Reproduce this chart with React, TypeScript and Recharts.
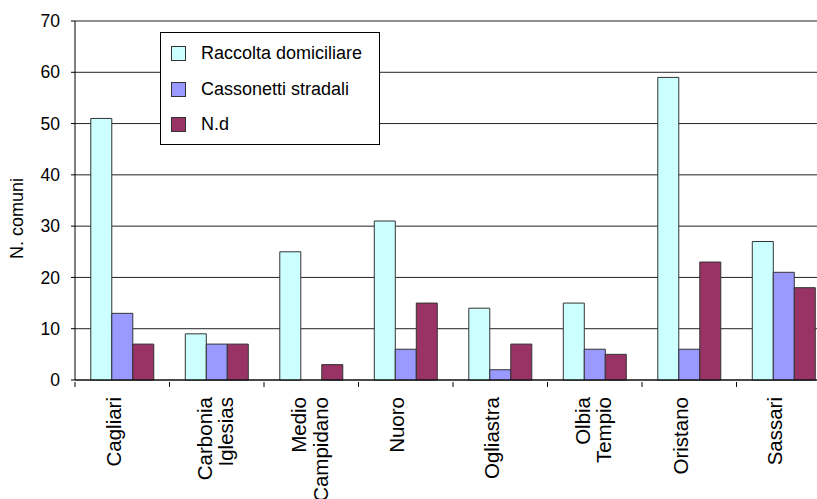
import { BarChart, Bar, XAxis, YAxis, CartesianGrid, Legend } from 'recharts'

const provinces = [
  ['Cagliari'],
  ['Carbonia', 'Iglesias'],
  ['Medio', 'Campidano'],
  ['Nuoro'],
  ['Ogliastra'],
  ['Olbia', 'Tempio'],
  ['Oristano'],
  ['Sassari'],
]
const raccolta = [51, 9, 25, 31, 14, 15, 59, 27]
const cassonetti = [13, 7, 0, 6, 2, 6, 6, 21]
const nd = [7, 7, 3, 15, 7, 5, 23, 18]
const yTicks = [0, 10, 20, 30, 40, 50, 60, 70]

const series = [
  { key: 'raccolta', name: 'Raccolta domiciliare', color: '#CCFFFF' },
  { key: 'cassonetti', name: 'Cassonetti stradali', color: '#9999FF' },
  { key: 'nd', name: 'N.d', color: '#993366' },
]

const data = provinces.map((p, i) => ({
  name: p.join(' '),
  lines: p,
  raccolta: raccolta[i],
  cassonetti: cassonetti[i],
  nd: nd[i],
}))

const FONT = '"Liberation Sans", Arial, sans-serif'

function ProvinceTick(props: any) {
  const { x, y, payload, index } = props
  const lines: string[] = data[index]?.lines ?? [String(payload.value)]
  const off = payload.offset ?? 0
  // single labels sit a bit left of the band centre, two-line ones a bit right
  const shift = lines.length === 1 ? -1.5 : -5
  return (
    <g>
      <line x1={x - off} y1={y} x2={x - off} y2={y + 5} stroke="#000" />
      <g transform={`translate(${x},${y + 15}) rotate(-90)`}>
        <text textAnchor="end" fontSize={20.5} fontFamily={FONT} fill="#000">
          {lines.map((l, i) => (
            <tspan key={i} x={0} y={shift + i * 21.5}>{l}</tspan>
          ))}
        </text>
      </g>
    </g>
  )
}

function LegendBox() {
  return (
    <div style={{ width: 218, height: 108, border: '1px solid #000', background: '#fff', fontFamily: FONT, fontSize: 18, paddingTop: 3, boxSizing: 'content-box' }}>
      {series.map(s => (
        <div key={s.key} style={{ height: 35.5, display: 'flex', alignItems: 'center' }}>
          <span style={{ display: 'inline-block', width: 13, height: 13, marginLeft: 10, marginRight: 15, background: s.color, border: '1px solid #333' }} />
          <span style={{ color: '#000' }}>{s.name}</span>
        </div>
      ))}
    </div>
  )
}

export default function App() {
  return (
    <div style={{ position: 'absolute', left: 0, top: 0, width: 817, height: 499, overflow: 'hidden', background: '#fff' }}>
      <BarChart width={831} height={499} data={data} margin={{ top: 21, right: 0, left: 0, bottom: 0 }} barCategoryGap="16.7%" barGap={0}>
        <CartesianGrid horizontal vertical={false} stroke="#222" />
        <XAxis dataKey="name" interval={0} height={119} tickSize={0} tickLine={false} axisLine={{ stroke: '#000' }} tick={<ProvinceTick />} />
        <YAxis
          width={75}
          domain={[0, 70]}
          ticks={yTicks}
          interval={0}
          tickSize={4}
          tickMargin={11}
          axisLine={{ stroke: '#000' }}
          tickLine={{ stroke: '#000' }}
          tick={{ fontSize: 17.5, fill: '#000', fontFamily: FONT }}
          label={{ value: 'N. comuni', angle: -90, position: 'insideLeft', dx: 12, dy: 18, style: { textAnchor: 'middle', fontSize: 18, fill: '#000', fontFamily: FONT } }}
        />
        <Legend layout="vertical" align="center" verticalAlign="middle" wrapperStyle={{ top: 32, left: 160, width: 'auto' }} content={<LegendBox />} />
        {series.map(s => (
          <Bar key={s.key} dataKey={s.key} name={s.name} fill={s.color} stroke="#333" strokeWidth={1} isAnimationActive={false} />
        ))}
      </BarChart>
    </div>
  )
}
